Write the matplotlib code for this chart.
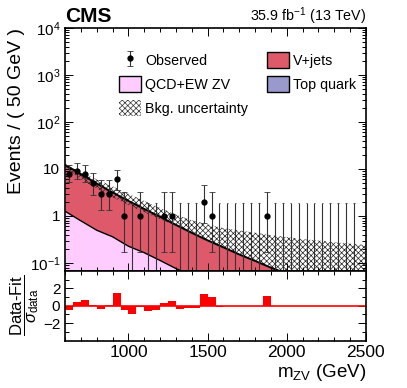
import numpy as np
import matplotlib
matplotlib.use('Agg')
from matplotlib import pyplot as plt
from matplotlib.ticker import MultipleLocator, FixedLocator, LogLocator, FuncFormatter, NullFormatter
from matplotlib.patches import Patch

plt.rcParams['font.family'] = ['Liberation Sans', 'DejaVu Sans']
plt.rcParams['mathtext.fontset'] = 'custom'
plt.rcParams['mathtext.rm'] = 'Liberation Sans'
plt.rcParams['mathtext.it'] = 'Liberation Sans:italic'
plt.rcParams['hatch.linewidth'] = 0.5

# observed counts, 50 GeV bins (centres 625 ... 2425)
bin_centres = np.arange(625, 2450, 50)
observed = [8, 9, 8, 5, 3, 3, 6, 1, 0, 1, 0, 0, 1, 1, 0, 0, 0, 2, 1, 0,
            0, 0, 0, 0, 0, 1, 0, 0, 0, 0, 0, 0, 0, 0, 0, 0, 0]
# Garwood 68% intervals for the counts used
poisson_lo = {0: 0.0, 1: 0.173, 2: 0.708, 3: 1.367, 5: 2.840, 6: 3.620, 8: 5.232, 9: 6.057}
poisson_hi = {0: 1.841, 1: 3.300, 2: 4.638, 3: 5.918, 5: 8.382, 6: 9.584, 8: 11.95, 9: 13.11}

# background fit curves, read every 100 GeV
m_pts = [600, 700, 800, 900, 1000, 1100, 1200, 1300, 1400, 1500,
         1600, 1700, 1800, 1900, 2000, 2100, 2200, 2300, 2400, 2500]
top_quark = [0.04, 0.025, 0.016, 0.010, 0.007, 0.005, 0.003, 0.002, 0.0015, 0.001,
             0.0008, 0.0006, 0.0005, 0.0004, 0.0003, 0.0002, 0.0002, 0.0001, 0.0001, 0.0001]
qcd_ew_zv = [1.22, 0.76, 0.48, 0.35, 0.22, 0.16, 0.11, 0.074, 0.052, 0.037,
             0.027, 0.020, 0.015, 0.011, 0.008, 0.006, 0.0045, 0.0033, 0.0025, 0.0018]
v_jets = [10.94, 6.92, 4.40, 2.80, 1.86, 1.245, 0.842, 0.570, 0.384, 0.264,
          0.187, 0.131, 0.095, 0.068, 0.051, 0.038, 0.0285, 0.0217, 0.0165, 0.0122]
unc_up = [12.6, 8.5, 6.0, 4.27, 2.95, 2.09, 1.48, 1.07, 0.81, 0.66,
          0.55, 0.49, 0.44, 0.39, 0.355, 0.32, 0.30, 0.275, 0.257, 0.24]
unc_down = [11.0, 6.0, 3.8, 2.5, 1.7, 1.2, 0.85, 0.62, 0.437, 0.302,
            0.214, 0.151, 0.110, 0.079, 0.059, 0.044, 0.033, 0.025, 0.019, 0.014]

# pull per bin (600-2500)
ratio_edges = np.arange(600, 2550, 50)
pulls = [-0.55, 0.4, 0.67, 0.05, -0.35, 0.05, 1.5, -0.5, -1.0, -0.1,
         -0.65, -0.5, 0.35, 0.5, -0.35, -0.3, -0.25, 1.35, 1.0, -0.2,
         -0.08, -0.06, -0.05, -0.04, -0.03, 1.15, -0.02, -0.02, -0.01, -0.01,
         -0.01, -0.01, 0.0, 0.0, 0.0, 0.0, 0.0, 0.0]

c_vjets = '#de5a6a'
c_qcd = '#ffccff'
c_top = '#9999cc'

fig = plt.figure(figsize=(4.07, 3.88), dpi=100)
fig.set_facecolor('white')
ax1 = fig.add_axes([0.160, 0.302, 0.739, 0.626])
ax2 = fig.add_axes([0.160, 0.1224, 0.739, 0.1796], sharex=ax1)

m = np.array(m_pts)
s1 = np.array(top_quark)
s2 = s1 + np.array(qcd_ew_zv)
s3 = s2 + np.array(v_jets)
ax1.fill_between(m, 1e-4, s1, color=c_top, lw=0)
ax1.fill_between(m, s1, s2, color=c_qcd, lw=0)
ax1.fill_between(m, s2, s3, color=c_vjets, lw=0)
ax1.plot(m, s2, color='black', lw=1.0)
ax1.plot(m, s3, color='black', lw=1.4)
ax1.fill_between(m, unc_down, unc_up, facecolor='none', edgecolor='#222222', hatch='xxxxxx', lw=0)

# observed points
obs = np.array(observed)
lo = np.array([poisson_lo[n] for n in observed])
hi = np.array([poisson_hi[n] for n in observed])
nz = obs > 0
eb = ax1.errorbar(bin_centres[nz], obs[nz], yerr=[obs[nz] - lo[nz], hi[nz] - obs[nz]],
                  fmt='o', color='black', ecolor='#333333', ms=3.5, elinewidth=0.8,
                  capsize=2, capthick=0.6)
z = ~nz
ax1.vlines(bin_centres[z], 1e-3, hi[z], color='#333333', lw=0.8)
ax1.hlines(hi[z], bin_centres[z] - 5, bin_centres[z] + 5, color='#333333', lw=0.6)

ax1.set_yscale('log')
ax1.set_xlim(600, 2500)
ax1.set_ylim(0.068, 1e4)

def log_fmt(v, pos):
    e = int(round(np.log10(v)))
    if e == 0:
        return '1'
    if e == 1:
        return '10'
    return r'$10^{%d}$' % e
ax1.yaxis.set_major_locator(LogLocator(base=10, numticks=10))
ax1.yaxis.set_minor_locator(LogLocator(base=10, subs=np.arange(2, 10), numticks=10))
ax1.yaxis.set_major_formatter(FuncFormatter(log_fmt))
ax1.yaxis.set_minor_formatter(NullFormatter())
ax1.xaxis.set_major_locator(MultipleLocator(500))
ax1.xaxis.set_minor_locator(MultipleLocator(100))
plt.setp(ax1.get_xticklabels(), visible=False)

# ratio panel
ax2.stairs(pulls, ratio_edges, baseline=0, fill=True, color='red', lw=0)
ax2.axhline(0, color='red', lw=1.2)
ax2.set_ylim(-4, 4)
ax2.yaxis.set_major_locator(FixedLocator([-2, 0, 2]))
ax2.yaxis.set_minor_locator(FixedLocator([-3, -1, 1, 3]))
ax2.set_xlabel(r'$\mathrm{m}_{\mathrm{ZV}}$ (GeV)', fontsize=13.5, loc='right', labelpad=1)
ax2.set_ylabel(r'$\dfrac{\mathrm{Data}\text{-}\mathrm{Fit}}{\sigma_{\mathrm{data}}}$', fontsize=12, labelpad=1)

for ax in (ax1, ax2):
    ax.tick_params(which='both', direction='in', top=True, right=True, width=0.7)
    ax.tick_params(which='major', length=6)
    ax.tick_params(which='minor', length=3)
    for sp in ax.spines.values():
        sp.set_linewidth(1.2)
ax1.tick_params(axis='y', labelsize=11)
ax2.tick_params(axis='y', labelsize=11)
ax2.tick_params(axis='x', labelsize=12.5)

ax1.set_ylabel('Events / ( 50 GeV )', fontsize=14, loc='top', labelpad=3)

fig.text(0.160, 0.958, 'CMS', fontsize=15, fontweight='bold', ha='left', va='center')
fig.text(0.899, 0.958, r'35.9 fb$^{-1}$ (13 TeV)', fontsize=10.3, ha='right', va='center')

handles = [
    eb,
    Patch(facecolor=c_qcd, edgecolor='black', lw=1.0),
    Patch(facecolor='white', edgecolor='#333333', hatch='xxxxxx', lw=0),
    Patch(facecolor=c_vjets, edgecolor='black', lw=1.0),
    Patch(facecolor=c_top, edgecolor='black', lw=1.0),
]
labels = ['Observed', 'QCD+EW ZV', 'Bkg. uncertainty', 'V+jets', 'Top quark']
ax1.legend(handles, labels, ncol=2, loc='upper left', bbox_to_anchor=(0.155, 0.93),
           frameon=False, fontsize=10.3, handlelength=1.55, handleheight=1.3,
           handletextpad=0.3, columnspacing=1.3, labelspacing=0.6, borderpad=0)

fig.savefig('out.png', dpi=100)
